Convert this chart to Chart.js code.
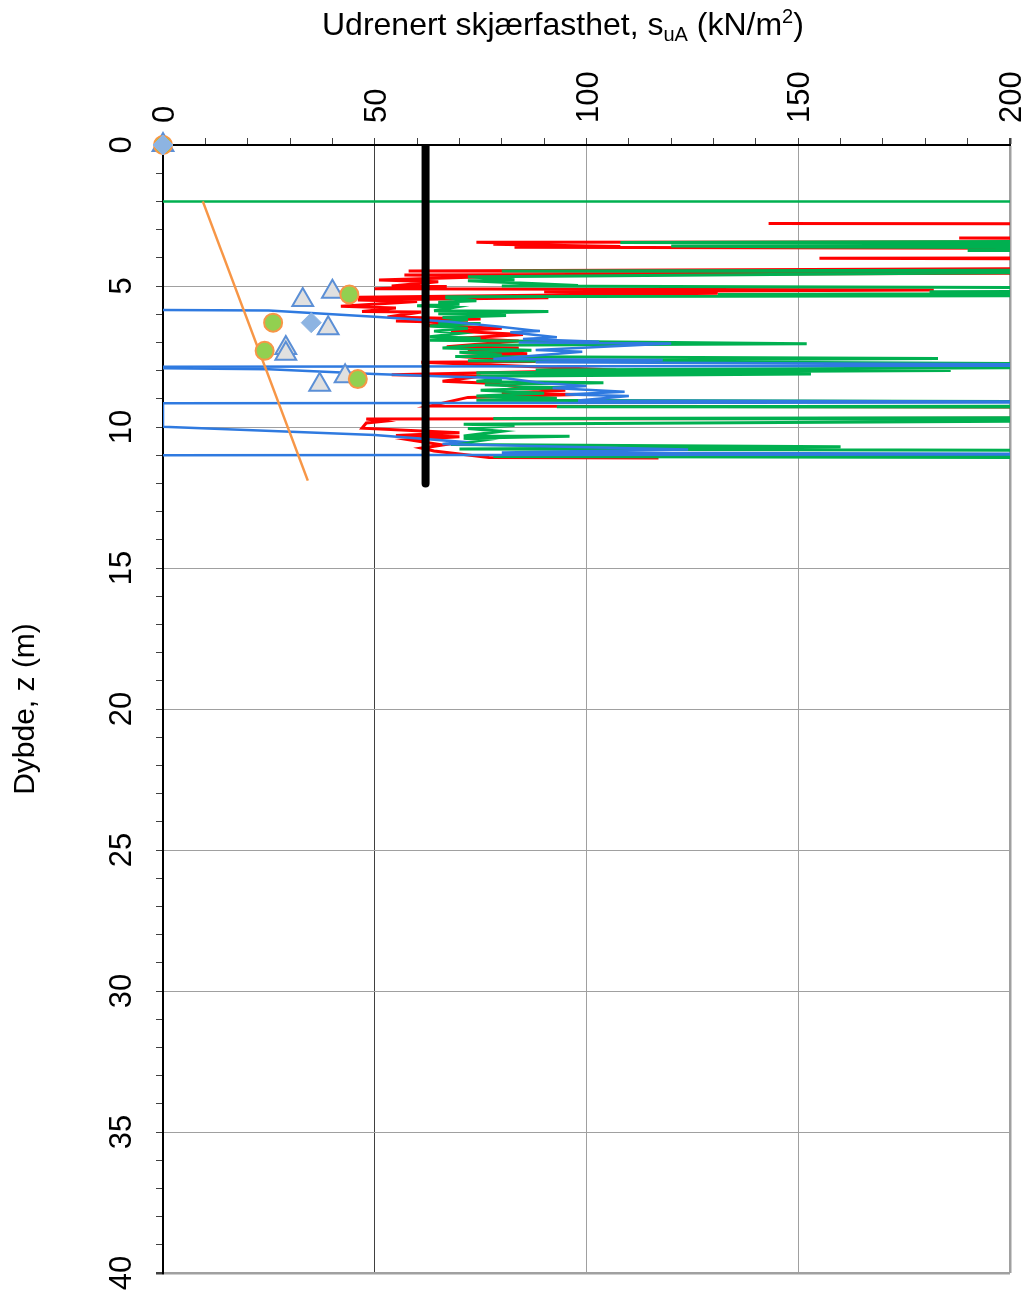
<!DOCTYPE html>
<html>
<head>
<meta charset="utf-8">
<script src="https://cdn.jsdelivr.net/npm/chart.js@4"></script>
<style>
  body { margin: 0; background: #fff; }
</style>
</head>
<body>
<canvas id="profil" width="1029" height="1292"></canvas>
<script>
// tick values of the two axes
const suTicks = [0, 50, 100, 150, 200];
const depthTicks = [0, 5, 10, 15, 20, 25, 30, 35, 40];

// CPTU profile, red
const redSu = [143, 260, 260, 188, 260, 260, 74, 90, 78, 108, 83, 260, 260, 155, 260, 260, 58, 260, 57, 80, 51, 65, 54, 67, 50, 182, 90, 131, 46, 91, 46, 60, 42, 55, 47, 61, 53, 75, 55, 72, 62, 80, 68, 85, 70, 84, 67, 84, 72, 86, 70, 88, 61, 107, 54, 75, 66, 77, 85, 95, 80, 98, 72, 63, 260, 260, 48, 52, 48, 47, 70, 55, 70, 58, 66, 61, 64, 77, 117];
const redDepth = [2.78, 2.8, 3.28, 3.3, 3.32, 3.43, 3.45, 3.5, 3.52, 3.6, 3.63, 3.68, 4.0, 4.02, 4.05, 4.35, 4.47, 4.52, 4.61, 4.65, 4.79, 4.85, 5.0, 5.02, 5.1, 5.14, 5.2, 5.26, 5.4, 5.42, 5.5, 5.55, 5.72, 5.78, 5.9, 5.92, 6.1, 6.17, 6.24, 6.3, 6.4, 6.5, 6.6, 6.72, 6.85, 6.95, 7.15, 7.2, 7.3, 7.4, 7.5, 7.68, 7.7, 7.98, 8.15, 8.2, 8.38, 8.45, 8.6, 8.7, 8.8, 8.85, 8.95, 9.26, 9.3, 9.68, 9.72, 9.8, 9.86, 10.04, 10.2, 10.3, 10.35, 10.45, 10.64, 10.75, 10.85, 11.08, 11.1];

// CPTU profile, green
const greenSu = [260, 108, 260, 260, 120, 154, 260, 260, 190, 260, 260, 80, 260, 197, 91, 72, 83, 72, 98, 80, 260, 260, 181, 260, 131, 260, 67, 67, 74, 65, 70, 60, 69, 64, 91, 65, 81, 66, 72, 65, 75, 63, 72, 64, 70, 63, 75, 63, 152, 74, 66, 87, 70, 80, 69, 183, 72, 260, 260, 88, 186, 74, 153, 74, 80, 74, 104, 76, 95, 75, 90, 74, 93, 74, 260, 260, 93, 260, 260, 78, 180, 260, 71, 83, 72, 80, 71, 96, 71, 76, 68, 160, 70, 260, 260, 78, 260];
const greenDepth = [3.4, 3.46, 3.5, 3.56, 3.58, 3.62, 3.66, 3.72, 3.74, 3.76, 4.43, 4.47, 4.5, 4.53, 4.65, 4.67, 4.78, 4.81, 4.98, 5.0, 5.08, 5.18, 5.2, 5.24, 5.3, 5.33, 5.38, 5.42, 5.52, 5.58, 5.65, 5.7, 5.75, 5.88, 5.9, 5.98, 6.05, 6.12, 6.2, 6.3, 6.33, 6.42, 6.5, 6.6, 6.68, 6.8, 6.85, 6.92, 7.05, 7.1, 7.2, 7.28, 7.35, 7.45, 7.5, 7.57, 7.65, 7.8, 7.85, 7.98, 8.0, 8.08, 8.12, 8.2, 8.3, 8.38, 8.43, 8.5, 8.6, 8.7, 8.8, 8.9, 8.98, 9.05, 9.12, 9.26, 9.28, 9.3, 9.66, 9.7, 9.72, 9.75, 9.9, 9.95, 10.05, 10.15, 10.32, 10.33, 10.4, 10.46, 10.62, 10.7, 10.78, 10.85, 11.0, 11.05, 11.1];

// CPTU profile, blue
const blueSu = [0, 25, 50, 67, 79, 89, 82, 93, 85, 103, 84, 120, 88, 99, 78, 118, 88, 260, 0, 0, 25, 50, 65, 81, 90, 100, 92, 109, 95, 110, 98, 260, 0, 0, 50, 70, 66, 124, 80, 260, 0];
const blueDepth = [5.85, 5.87, 6.09, 6.26, 6.44, 6.6, 6.64, 6.82, 6.88, 6.98, 7.0, 7.04, 7.27, 7.33, 7.59, 7.62, 7.7, 7.82, 7.86, 7.92, 7.95, 8.12, 8.2, 8.27, 8.45, 8.55, 8.62, 8.75, 8.85, 8.9, 9.06, 9.12, 9.16, 9.99, 10.28, 10.52, 10.6, 10.8, 10.9, 10.97, 11.0];

// design value and trend line
const designSu = [62, 62];
const designDepth = [0, 12];
const trendSu = [9.4, 34.2];
const trendDepth = [2, 11.9];
const levelSu = [0, 200];
const levelDepth = [2, 2];

// lab tests
const triSu = [0, 33, 40, 39, 29, 29, 37, 43];
const triDepth = [0, 5.5, 5.2, 6.5, 7.2, 7.4, 8.5, 8.2];
const diaSu = [0, 35];
const diaDepth = [0, 6.3];
const dotSu = [0, 44, 26, 24, 46];
const dotDepth = [0, 5.3, 6.3, 7.3, 8.3];

function pts(xs, ys) {
    return xs.map(function (v, i) { return { x: v, y: ys[i] }; });
}

function profile(xs, ys, colour, width) {
    return {
        data: pts(xs, ys),
        showLine: true,
        borderColor: colour,
        borderWidth: width,
        pointRadius: 0,
        tension: 0
    };
}

const font = '"Liberation Sans", Arial, sans-serif';

// turned tick labels on both axes and the title with sub/superscript
const axisText = {
    id: 'axisText',
    afterDraw(chart) {
        const c = chart.ctx;
        const xs = chart.scales.x;
        const ys = chart.scales.y;
        c.save();
        c.fillStyle = '#000';
        c.font = '31px ' + font;
        c.textBaseline = 'alphabetic';
        c.textAlign = 'center';
        depthTicks.forEach(function (v) {
            c.save();
            c.translate(131, ys.getPixelForValue(v));
            c.rotate(-Math.PI / 2);
            c.fillText(String(v), 0, 0);
            c.restore();
        });
        c.textAlign = 'left';
        suTicks.forEach(function (v) {
            c.save();
            c.translate(xs.getPixelForValue(v) + 11, 123);
            c.rotate(-Math.PI / 2);
            c.fillText(String(v), 0, 0);
            c.restore();
        });
        const parts = [
            ['Udrenert skjærfasthet, s', 32, 0],
            ['uA', 20, 6],
            [' (kN/m', 32, 0],
            ['2', 20, -12],
            [')', 32, 0]
        ];
        let x = 322;
        parts.forEach(function (p) {
            c.font = p[1] + 'px ' + font;
            c.fillText(p[0], x, 35 + p[2]);
            x += c.measureText(p[0]).width;
        });
        c.restore();
    }
};

const ctx = document.getElementById('profil').getContext('2d');
const chart = new Chart(ctx, {
    type: 'scatter',
    data: {
        datasets: [
            {
                data: pts(diaSu, diaDepth),
                pointStyle: 'rectRot',
                pointRadius: 10,
                backgroundColor: '#8db4e2',
                borderColor: '#8db4e2',
                borderWidth: 1,
                clip: false
            },
            {
                data: pts(dotSu, dotDepth),
                pointStyle: 'circle',
                pointRadius: 9,
                backgroundColor: '#92d050',
                borderColor: '#f79646',
                borderWidth: 2,
                clip: false
            },
            {
                data: pts(triSu, triDepth),
                pointStyle: 'triangle',
                pointRadius: 12,
                backgroundColor: '#e0e0e0',
                borderColor: '#5b8fd6',
                borderWidth: 2,
                clip: false
            },
            Object.assign(profile(designSu, designDepth, '#000000', 8), { borderCapStyle: 'round', clip: 0 }),
            profile(trendSu, trendDepth, '#f79646', 2.5),
            profile(levelSu, levelDepth, '#00b050', 2.5),
            profile(blueSu, blueDepth, '#2f7ae0', 2.5),
            profile(greenSu, greenDepth, '#00b050', 3),
            profile(redSu, redDepth, '#ff0000', 3)
        ]
    },
    options: {
        responsive: false,
        animation: false,
        layout: { padding: { left: 0, top: 0, right: 19, bottom: 19 } },
        plugins: {
            legend: { display: false },
            tooltip: { enabled: false }
        },
        scales: {
            x: {
                type: 'linear',
                position: 'top',
                min: 0,
                max: 200,
                afterFit(scale) { scale.height = 145; },
                ticks: { stepSize: 10, autoSkip: false, display: false },
                grid: {
                    color: function (c) {
                        const v = c.tick.value;
                        if (v === 50) return '#404040';
                        if (v % 50 === 0 && v > 0) return '#a0a0a0';
                        return 'rgba(0,0,0,0)';
                    },
                    lineWidth: function (c) { return c.tick.value === 200 ? 2.5 : 1; },
                    tickColor: '#404040',
                    tickLength: 7
                },
                border: { color: '#000', width: 2 }
            },
            y: {
                type: 'linear',
                position: 'left',
                reverse: true,
                min: 0,
                max: 40,
                afterFit(scale) { scale.width = 163; },
                ticks: { stepSize: 1, display: false },
                title: {
                    display: true,
                    text: 'Dybde, z (m)',
                    color: '#000',
                    font: { family: font, size: 30 },
                    padding: { top: 8, bottom: 0 }
                },
                grid: {
                    color: function (c) {
                        const v = c.tick.value;
                        if (v % 5 === 0 && v > 0) return '#a0a0a0';
                        return 'rgba(0,0,0,0)';
                    },
                    lineWidth: function (c) { return c.tick.value === 40 ? 2.5 : 1; },
                    tickColor: '#404040',
                    tickLength: 7
                },
                border: { color: '#000', width: 2 }
            }
        }
    },
    plugins: [axisText]
});
</script>
</body>
</html>
